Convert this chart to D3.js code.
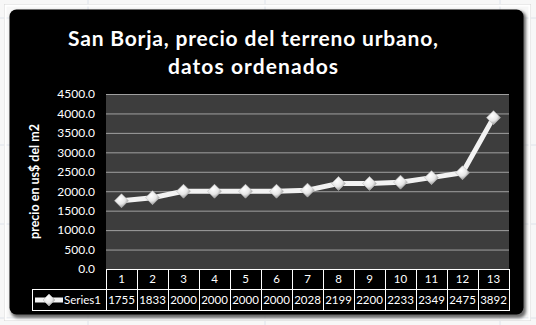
<!DOCTYPE html>
<html>
<head>
<meta charset="utf-8">
<script src="https://cdn.jsdelivr.net/npm/d3@7"></script>
<style>
  html, body { margin: 0; padding: 0; background: #f4f4f4; }
  svg { display: block; }
  text { font-family: Lato, "Open Sans", sans-serif; }
</style>
</head>
<body>
<svg id="chart" width="536" height="325"></svg>
<script>
// Series data: urban land price in San Borja, sorted ascending
const categories = ["1", "2", "3", "4", "5", "6", "7", "8", "9", "10", "11", "12", "13"];
const values = [1755, 1833, 2000, 2000, 2000, 2000, 2028, 2199, 2200, 2233, 2349, 2475, 3892];
const seriesName = "Series1";
const yTicks = [0, 500, 1000, 1500, 2000, 2500, 3000, 3500, 4000, 4500];
const titleLines = ["San Borja, precio del terreno urbano,", "datos ordenados"];
const titleWidths = [370, 170];
const yTitle = "precio en us$ del m2";

const svg = d3.select("#chart");
const W = 536, H = 325;

// Spreadsheet backdrop with faint cell grid
const sheet = svg.append("g");
sheet.append("rect").attr("width", W).attr("height", H).attr("fill", "#f7f7f7");
[88, 265, 500].forEach(x => sheet.append("line")
  .attr("x1", x).attr("x2", x).attr("y1", 0).attr("y2", H)
  .attr("stroke", "#dde2ea"));
[18, 145, 224, 318].forEach(y => sheet.append("line")
  .attr("x1", 0).attr("x2", W).attr("y1", y).attr("y2", y)
  .attr("stroke", "#dde2ea"));
// chart object frame
sheet.append("rect").attr("x", 4.5).attr("y", 4.5).attr("width", 526).attr("height", 316)
  .attr("fill", "none").attr("stroke", "#d4d4d4").attr("stroke-width", 1);
sheet.append("rect").attr("x", 5.5).attr("y", 5.5).attr("width", 524).attr("height", 314)
  .attr("fill", "none").attr("stroke", "#ffffff").attr("stroke-width", 2);

const defs = svg.append("defs");
const blur = defs.append("filter").attr("id", "shadow")
  .attr("x", "-5%").attr("y", "-5%").attr("width", "110%").attr("height", "110%");
blur.append("feGaussianBlur").attr("stdDeviation", 1.6);

const grad = defs.append("radialGradient").attr("id", "diamondFill")
  .attr("cx", "40%").attr("cy", "35%").attr("r", "70%");
grad.append("stop").attr("offset", "0%").attr("stop-color", "#ffffff");
grad.append("stop").attr("offset", "55%").attr("stop-color", "#e6e6e6");
grad.append("stop").attr("offset", "100%").attr("stop-color", "#8a8a8a");

// Black chart area with soft shadow
svg.append("rect").attr("x", 11).attr("y", 11).attr("width", 515).attr("height", 307)
  .attr("rx", 7).attr("fill", "#6a6a6a").attr("filter", "url(#shadow)");
svg.append("rect").attr("x", 9.5).attr("y", 9.5).attr("width", 514).attr("height", 305)
  .attr("rx", 7).attr("fill", "#000000");

// Title
svg.append("g").selectAll("text").data(titleLines).join("text")
  .attr("x", 253)
  .attr("y", (d, i) => 46 + i * 28)
  .attr("text-anchor", "middle")
  .attr("fill", "#ffffff")
  .attr("font-weight", "bold")
  .attr("font-size", 21)
  .attr("textLength", (d, i) => titleWidths[i])
  .attr("lengthAdjust", "spacing")
  .text(d => d);

// Plot area
const plot = { left: 106, right: 509, top: 94, bottom: 269 };

const x = d3.scaleBand().domain(categories).range([plot.left, plot.right]);
const y = d3.scaleLinear().domain([0, 4500]).range([plot.bottom, plot.top]);

svg.append("rect")
  .attr("x", plot.left).attr("y", plot.top)
  .attr("width", plot.right - plot.left).attr("height", plot.bottom - plot.top)
  .attr("fill", "#3d3d3d");

// Gridlines
svg.append("g")
  .attr("transform", `translate(${plot.left},0)`)
  .call(d3.axisLeft(y).tickValues(yTicks).tickSize(-(plot.right - plot.left)).tickFormat(""))
  .call(g => g.select(".domain").remove())
  .call(g => g.selectAll(".tick line").attr("stroke", "#a0a0a0").attr("stroke-width", 1));

// Y axis labels
svg.append("g")
  .attr("transform", `translate(${plot.left - 11},0)`)
  .call(d3.axisLeft(y).tickValues(yTicks).tickSize(0).tickPadding(0).tickFormat(d3.format(".1f")))
  .call(g => g.select(".domain").remove())
  .call(g => g.selectAll(".tick text")
    .attr("fill", "#ffffff")
    .attr("font-size", 12)
    .attr("font-family", "Lato, 'Open Sans', sans-serif"));

// Y axis title
svg.append("text")
  .attr("transform", `translate(39,${(plot.top + plot.bottom) / 2}) rotate(-90)`)
  .attr("text-anchor", "middle")
  .attr("fill", "#ffffff")
  .attr("font-weight", "bold")
  .attr("font-size", 12.5)
  .text(yTitle);

// Series line
const line = d3.line()
  .x((d, i) => x(categories[i]) + x.bandwidth() / 2)
  .y(d => y(d));

svg.append("path")
  .datum(values)
  .attr("d", line)
  .attr("fill", "none")
  .attr("stroke", "#f2f2f2")
  .attr("stroke-width", 5)
  .attr("stroke-linejoin", "round");

const diamond = s => `M0,${-s}L${s},0L0,${s}L${-s},0Z`;

svg.append("g").selectAll("path")
  .data(values)
  .join("path")
  .attr("transform", (d, i) => `translate(${x(categories[i]) + x.bandwidth() / 2},${y(d)})`)
  .attr("d", diamond(7))
  .attr("fill", "url(#diamondFill)")
  .attr("stroke", "#bdbdbd")
  .attr("stroke-width", 0.6);

// Data table below the plot
const row1 = { top: plot.bottom, bottom: 289 };
const row2 = { top: 289, bottom: 310 };
const legendLeft = 32;
const table = svg.append("g");
const white = "#ffffff";

// horizontal borders
table.append("line").attr("x1", plot.left).attr("x2", plot.right)
  .attr("y1", row1.top + 0.5).attr("y2", row1.top + 0.5).attr("stroke", white);
table.append("line").attr("x1", legendLeft).attr("x2", plot.right)
  .attr("y1", row2.top + 0.5).attr("y2", row2.top + 0.5).attr("stroke", white);
table.append("line").attr("x1", legendLeft).attr("x2", plot.right)
  .attr("y1", row2.bottom + 0.5).attr("y2", row2.bottom + 0.5).attr("stroke", white);

// vertical borders
const colEdges = categories.map(c => x(c)).concat([plot.right]);
table.selectAll("line.col")
  .data(colEdges)
  .join("line")
  .attr("class", "col")
  .attr("x1", d => Math.round(d) + 0.5).attr("x2", d => Math.round(d) + 0.5)
  .attr("y1", row1.top).attr("y2", row2.bottom + 1)
  .attr("stroke", white);
table.append("line")
  .attr("x1", legendLeft + 0.5).attr("x2", legendLeft + 0.5)
  .attr("y1", row2.top).attr("y2", row2.bottom + 1)
  .attr("stroke", white);

// category labels
table.selectAll("text.cat")
  .data(categories)
  .join("text")
  .attr("class", "cat")
  .attr("x", d => x(d) + x.bandwidth() / 2)
  .attr("y", (row1.top + row1.bottom) / 2 + 4)
  .attr("text-anchor", "middle")
  .attr("fill", white)
  .attr("font-size", 11.5)
  .text(d => d);

// value labels
table.selectAll("text.val")
  .data(values)
  .join("text")
  .attr("class", "val")
  .attr("x", (d, i) => x(categories[i]) + x.bandwidth() / 2)
  .attr("y", (row2.top + row2.bottom) / 2 + 4.5)
  .attr("text-anchor", "middle")
  .attr("fill", white)
  .attr("font-size", 11.5)
  .text(d => d);

// legend key inside the table
const keyY = (row2.top + row2.bottom) / 2 + 0.5;
table.append("line")
  .attr("x1", 35).attr("x2", 63).attr("y1", keyY).attr("y2", keyY)
  .attr("stroke", "#f2f2f2").attr("stroke-width", 5);
table.append("path")
  .attr("transform", `translate(49,${keyY})`)
  .attr("d", diamond(6))
  .attr("fill", "url(#diamondFill)")
  .attr("stroke", "#bdbdbd")
  .attr("stroke-width", 0.6);
table.append("text")
  .attr("x", 64).attr("y", keyY + 4)
  .attr("fill", white)
  .attr("font-size", 11.5)
  .text(seriesName);
</script>
</body>
</html>
